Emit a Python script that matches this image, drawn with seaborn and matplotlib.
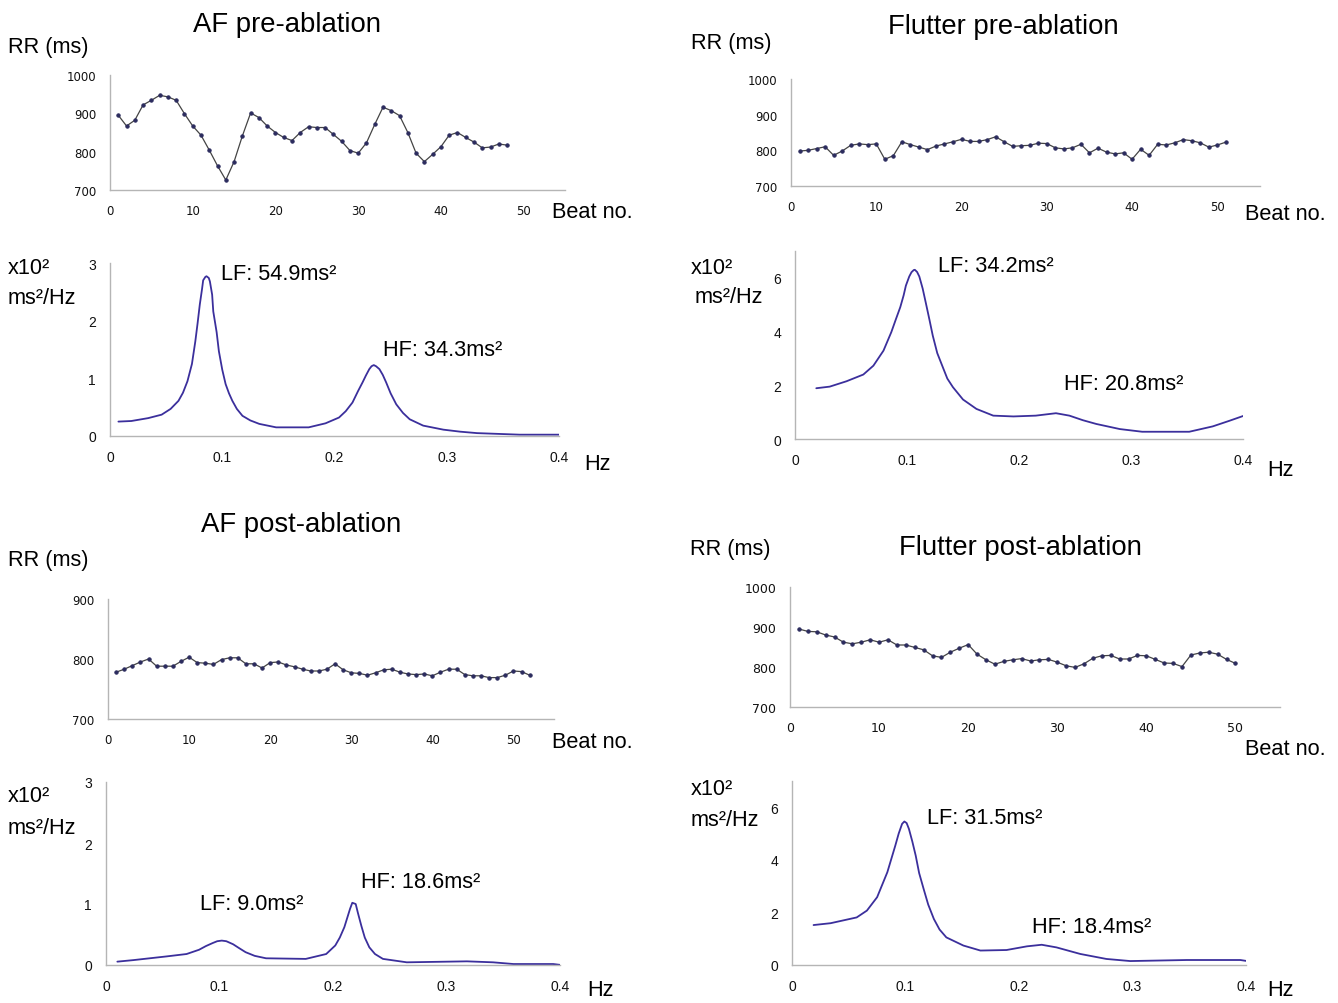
import numpy as np
import pandas as pd
import matplotlib
matplotlib.use("Agg")
import matplotlib.pyplot as plt
import seaborn as sns

# -- Дані: RR-інтервали (мс) по ударах

af_pre_rr = [895, 867, 882, 922, 934, 947, 943, 934, 899, 867, 843, 804, 763, 726, 774, 841,
             901, 889, 867, 850, 837, 829, 850, 865, 863, 863, 845, 827, 803, 796, 823, 871,
             916, 907, 894, 850, 796, 774, 793, 813, 843, 850, 837, 825, 810, 812, 820, 817]

fl_pre_rr = [798, 800, 805, 810, 786, 798, 814, 818, 816, 818, 775, 785, 824, 816, 809, 802,
             812, 818, 824, 831, 825, 825, 830, 838, 824, 811, 813, 814, 820, 819, 807, 804,
             807, 817, 793, 806, 795, 790, 793, 775, 803, 786, 817, 815, 821, 830, 827, 821,
             809, 815, 823]

af_post_rr = [778, 783, 789, 795, 800, 788, 788, 788, 796, 803, 794, 793, 791, 799, 802, 802,
              792, 792, 785, 794, 795, 790, 787, 783, 780, 780, 783, 792, 782, 777, 776, 773,
              777, 782, 783, 778, 775, 774, 775, 772, 778, 783, 783, 774, 772, 772, 769, 769,
              773, 780, 779, 773]

fl_post_rr = [895, 889, 888, 880, 875, 862, 858, 862, 868, 862, 868, 855, 855, 849, 843, 828,
              824, 837, 847, 856, 832, 818, 807, 814, 818, 821, 815, 818, 819, 812, 803, 799,
              808, 822, 828, 829, 820, 820, 829, 828, 819, 810, 809, 801, 830, 835, 837, 832,
              819, 809]

# -- Дані: спектри (Гц, x10^2 мс^2/Гц)

af_pre_f = [0.0075, 0.019, 0.034, 0.046, 0.054, 0.061, 0.065, 0.069, 0.073, 0.076, 0.078,
            0.080, 0.082, 0.083, 0.085, 0.086, 0.088, 0.089, 0.091, 0.092, 0.095, 0.097,
            0.100, 0.103, 0.106, 0.109, 0.113, 0.118, 0.125, 0.133, 0.148, 0.177, 0.192,
            0.204, 0.210, 0.216, 0.221, 0.225, 0.228, 0.231, 0.233, 0.235, 0.237, 0.240,
            0.243, 0.246, 0.250, 0.255, 0.261, 0.267, 0.279, 0.297, 0.312, 0.327, 0.365,
            0.401]
af_pre_p = [0.25, 0.26, 0.31, 0.37, 0.47, 0.61, 0.75, 0.95, 1.25, 1.64, 1.95,
            2.28, 2.55, 2.70, 2.76, 2.77, 2.74, 2.68, 2.45, 2.16, 1.80, 1.47,
            1.15, 0.90, 0.74, 0.61, 0.47, 0.35, 0.27, 0.21, 0.15, 0.15, 0.22,
            0.32, 0.43, 0.58, 0.78, 0.93, 1.05, 1.16, 1.21, 1.23, 1.21, 1.16,
            1.06, 0.93, 0.74, 0.55, 0.40, 0.29, 0.18, 0.11, 0.075, 0.05, 0.023,
            0.023]

fl_pre_f = [0.019, 0.031, 0.046, 0.061, 0.070, 0.079, 0.086, 0.090, 0.094, 0.097, 0.099,
            0.102, 0.104, 0.106, 0.107, 0.109, 0.111, 0.114, 0.117, 0.120, 0.123, 0.127,
            0.132, 0.136, 0.141, 0.150, 0.162, 0.177, 0.195, 0.215, 0.233, 0.245, 0.257,
            0.269, 0.290, 0.310, 0.352, 0.373, 0.388, 0.401]
fl_pre_p = [1.89, 1.95, 2.15, 2.40, 2.73, 3.29, 3.98, 4.45, 4.91, 5.35, 5.71,
            6.05, 6.21, 6.29, 6.30, 6.22, 6.05, 5.60, 5.03, 4.45, 3.85, 3.20,
            2.67, 2.25, 1.93, 1.47, 1.12, 0.87, 0.84, 0.87, 0.96, 0.87, 0.70,
            0.56, 0.37, 0.27, 0.27, 0.47, 0.68, 0.87]

af_post_f = [0.010, 0.024, 0.053, 0.071, 0.082, 0.088, 0.094, 0.098, 0.102, 0.106, 0.112,
             0.117, 0.123, 0.131, 0.141, 0.176, 0.194, 0.202, 0.206, 0.210, 0.213, 0.215,
             0.217, 0.220, 0.222, 0.225, 0.228, 0.232, 0.237, 0.244, 0.265, 0.318, 0.341,
             0.359, 0.394, 0.401]
af_post_p = [0.055, 0.08, 0.14, 0.18, 0.25, 0.31, 0.36, 0.39, 0.40, 0.39, 0.34,
             0.28, 0.21, 0.15, 0.11, 0.10, 0.18, 0.32, 0.45, 0.62, 0.80, 0.92,
             1.02, 1.00, 0.85, 0.64, 0.45, 0.29, 0.18, 0.10, 0.044, 0.06, 0.044,
             0.016, 0.016, 0.0]

fl_post_f = [0.019, 0.034, 0.057, 0.066, 0.075, 0.084, 0.091, 0.094, 0.097, 0.099, 0.101,
             0.103, 0.106, 0.109, 0.112, 0.116, 0.120, 0.125, 0.130, 0.136, 0.151, 0.166,
             0.189, 0.207, 0.220, 0.233, 0.254, 0.277, 0.298, 0.348, 0.395, 0.404]
fl_post_p = [1.52, 1.59, 1.81, 2.07, 2.58, 3.53, 4.54, 5.00, 5.37, 5.46, 5.40,
             5.18, 4.70, 4.16, 3.50, 2.89, 2.30, 1.75, 1.35, 1.05, 0.74, 0.55,
             0.57, 0.71, 0.77, 0.67, 0.42, 0.23, 0.15, 0.19, 0.19, 0.13]

titles = ["AF pre-ablation", "Flutter pre-ablation", "AF post-ablation", "Flutter post-ablation"]
lf_labels = ["LF: 54.9ms²", "LF: 34.2ms²", "LF: 9.0ms²", "LF: 31.5ms²"]
hf_labels = ["HF: 34.3ms²", "HF: 20.8ms²", "HF: 18.6ms²", "HF: 18.4ms²"]

# -- Оформлення

sns.set_style("white")
NARROW = ['Liberation Sans Narrow', 'Liberation Sans', 'DejaVu Sans']
plt.rcParams['font.family'] = NARROW
plt.rcParams['text.color'] = 'black'

W, H = 1338, 1004
RR_LINE = "#444444"
RR_DOT = "#2c2c5e"
SPEC = "#3b2f9c"
AX_GREY = "#b5b5b5"

fig = plt.figure(figsize=(W / 100, H / 100), dpi=100)


def add_ax(l, r, t, b):
    return fig.add_axes([l / W, 1 - b / H, (r - l) / W, (b - t) / H])


def ftext(x, y, s, size=15.7, ha="left"):
    fig.text(x / W, 1 - y / H, s, fontsize=size, ha=ha, va="center", family=NARROW,
             color="black")


def style_ax(ax, tick_font, tick_size):
    for side in ["top", "right"]:
        ax.spines[side].set_visible(False)
    for side in ["left", "bottom"]:
        ax.spines[side].set_color(AX_GREY)
        ax.spines[side].set_linewidth(1)
    ax.tick_params(axis="both", direction="out", length=4, width=1, color=AX_GREY,
                   labelsize=tick_size, labelcolor="#111111", pad=6)
    for lab in ax.get_xticklabels() + ax.get_yticklabels():
        lab.set_family(tick_font)
    ax.set_xlabel("")
    ax.set_ylabel("")


def rr_panel(box, rr):
    ax = add_ax(*box)
    beats = np.arange(1, len(rr) + 1)
    sns.lineplot(x=beats, y=rr, ax=ax, color=RR_LINE, linewidth=0.9,
                 marker="o", markersize=2.4, markerfacecolor=RR_DOT, markeredgecolor=RR_DOT)
    ax.set_xlim(0, 55)
    ax.set_xticks([0, 10, 20, 30, 40, 50])
    return ax


def spec_panel(box, f, p, ymax, yticks):
    ax = add_ax(*box)
    sns.lineplot(x=f, y=p, ax=ax, color=SPEC, linewidth=1.3)
    ax.set_xlim(0, 0.4)
    ax.set_xticks([0, 0.1, 0.2, 0.3, 0.4])
    ax.set_xticklabels(["0", "0.1", "0.2", "0.3", "0.4"])
    ax.set_ylim(0, ymax)
    ax.set_yticks(yticks)
    style_ax(ax, NARROW, 10)
    return ax


# -- RR тахограми
ax1 = rr_panel((110, 565, 76, 191), af_pre_rr)
ax1.set_ylim(700, 1000)
ax1.set_yticks([700, 800, 900, 1000])
style_ax(ax1, "DejaVu Sans", 8.5)

ax2 = rr_panel((791, 1260, 80, 187), fl_pre_rr)
ax2.set_ylim(700, 1000)
ax2.set_yticks([700, 800, 900, 1000])
style_ax(ax2, "DejaVu Sans", 8.5)

ax3 = rr_panel((108, 554, 600, 720), af_post_rr)
ax3.set_ylim(700, 900)
ax3.set_yticks([700, 800, 900])
style_ax(ax3, "DejaVu Sans", 8.5)

ax4 = rr_panel((790, 1280, 588, 708), fl_post_rr)
ax4.set_ylim(700, 1000)
ax4.set_yticks([700, 800, 900, 1000])
style_ax(ax4, "DejaVu Sans", 9)

# -- Спектри
spec_panel((110, 559, 264, 437), af_pre_f, af_pre_p, 3, [0, 1, 2, 3])
spec_panel((795, 1243, 252, 440), fl_pre_f, fl_pre_p, 7, [0, 2, 4, 6])
spec_panel((106, 560, 783, 966), af_post_f, af_post_p, 3, [0, 1, 2, 3])
spec_panel((792, 1246, 782, 966), fl_post_f, fl_post_p, 7, [0, 2, 4, 6])

# -- Підписи
ftext(287, 25, titles[0], size=19.8, ha="center")
ftext(1003, 27, titles[1], size=19.8, ha="center")
ftext(301, 525, titles[2], size=19.8, ha="center")
ftext(1020, 548, titles[3], size=19.8, ha="center")

for x, y in [(8, 48), (691, 43), (8, 561), (690, 550)]:
    ftext(x, y, "RR (ms)")
for x, y in [(552, 212), (1245, 214), (552, 743), (1245, 750)]:
    ftext(x, y, "Beat no.")
for x, y in [(584, 465), (1267, 470), (587, 991), (1267, 991)]:
    ftext(x, y, "Hz")
for x, y in [(8, 268), (691, 268), (8, 797), (691, 790)]:
    ftext(x, y, "x10²")
for x, y in [(8, 299), (695, 298), (8, 828), (691, 821)]:
    ftext(x, y, "ms²/Hz")

for (x, y), s in zip([(221, 275), (938, 267), (200, 905), (927, 818)], lf_labels):
    ftext(x, y, s)
for (x, y), s in zip([(383, 350), (1064, 384), (361, 883), (1032, 928)], hf_labels):
    ftext(x, y, s)

plt.savefig("out.png", dpi=100)
plt.close()
